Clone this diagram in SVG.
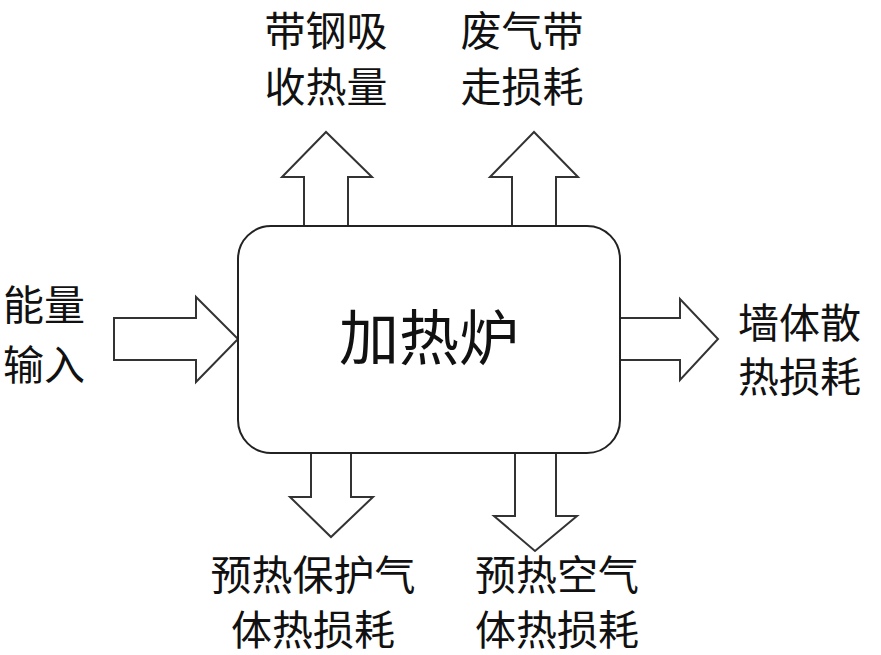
<svg xmlns="http://www.w3.org/2000/svg" width="881" height="655" viewBox="0 0 881 655">
<style>
.a{fill:#fff;stroke:#333;stroke-width:2;stroke-linejoin:miter}
.t{font-family:"Noto Sans CJK SC",sans-serif;font-size:41px;fill:#111}
</style>
<rect width="881" height="655" fill="#fff"/>
<g id="connectors">
<polygon class="a" points="304,226 304,177 282,177 326,132 372,177 348,177 348,226"/>
<polygon class="a" points="512,226 512,177 490,177 534,132 578,177 556,177 556,226"/>
<polygon class="a" points="114,318 196,318 196,297 238,339 196,382 196,360 114,360"/>
<polygon class="a" points="620,318 680,318 680,299 718,339 680,380 680,360 620,360"/>
<polygon class="a" points="311,453 311,497 290,497 331,537 373,497 351,497 351,453"/>
<polygon class="a" points="515,453 515,516 494,516 535,551 577,516 556,516 556,453"/>
</g>
<g id="furnace">
<rect x="238" y="226" width="382" height="227" rx="33" fill="#fff" stroke="#222" stroke-width="2"/>
<text class="t" x="429" y="360" text-anchor="middle" style="font-size:60px">加热炉</text>
</g>
<g id="steel"><text class="t" x="326" y="46" text-anchor="middle">带钢吸</text><text class="t" x="326" y="102" text-anchor="middle">收热量</text></g>
<g id="exhaust"><text class="t" x="522" y="46" text-anchor="middle">废气带</text><text class="t" x="522" y="102" text-anchor="middle">走损耗</text></g>
<g id="input"><text class="t" x="3" y="320">能量</text><text class="t" x="3" y="380">输入</text></g>
<g id="wall"><text class="t" x="738" y="338">墙体散</text><text class="t" x="738" y="392">热损耗</text></g>
<g id="protect"><text class="t" x="313" y="590" text-anchor="middle">预热保护气</text><text class="t" x="313" y="645" text-anchor="middle">体热损耗</text></g>
<g id="air"><text class="t" x="557" y="590" text-anchor="middle">预热空气</text><text class="t" x="557" y="645" text-anchor="middle">体热损耗</text></g>
</svg>
